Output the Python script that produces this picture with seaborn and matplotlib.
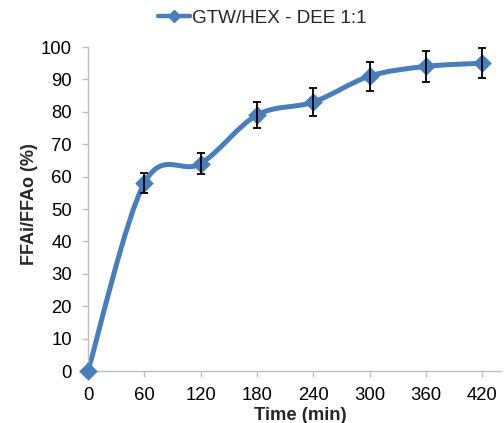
import matplotlib
matplotlib.use("Agg")
import matplotlib.pyplot as plt
import seaborn as sns
import pandas as pd
from matplotlib.path import Path
from matplotlib.patches import PathPatch
from matplotlib.lines import Line2D

# data
time_min = [0, 60, 120, 180, 240, 300, 360, 420]
ffa_ratio = [0, 58, 64, 79, 83, 91, 94, 95]
ffa_err = [0, 3, 3.2, 4, 4.2, 4.5, 4.7, 4.7]
series_name = 'GTW/HEX - DEE 1:1'
x_ticks = [0, 60, 120, 180, 240, 300, 360, 420]
y_ticks = [0, 10, 20, 30, 40, 50, 60, 70, 80, 90, 100]

blue = '#4a7ebb'
grey = '#bfbfbf'

sns.set_theme(style='white')
plt.rcParams['font.family'] = ['Liberation Sans', 'DejaVu Sans']

df = pd.DataFrame({'time': time_min, 'ffa': ffa_ratio, 'err': ffa_err})


def smooth_path(xs, ys):
    '''Excel-like smoothed line as cubic bezier segments through the points'''
    verts = [(xs[0], ys[0])]
    codes = [Path.MOVETO]
    n = len(xs)
    for i in range(n - 1):
        xp, yp = xs[max(i - 1, 0)], ys[max(i - 1, 0)]
        x0, y0 = xs[i], ys[i]
        x1, y1 = xs[i + 1], ys[i + 1]
        xn, yn = xs[min(i + 2, n - 1)], ys[min(i + 2, n - 1)]
        c1 = (x0 + (x1 - xp) / 6, y0 + (y1 - yp) / 6)
        c2 = (x1 - (xn - x0) / 6, y1 - (yn - y0) / 6)
        verts += [c1, c2, (x1, y1)]
        codes += [Path.CURVE4] * 3
    return Path(verts, codes)


fig = plt.figure(figsize=(5.04, 4.23), dpi=100)
ax = fig.add_axes([88 / 504, 1 - 371 / 423, (501 - 88) / 504, (371 - 47) / 423])

ax.add_patch(PathPatch(smooth_path(time_min, ffa_ratio), facecolor='none',
                       edgecolor=blue, lw=3.6, capstyle='round', joinstyle='round',
                       zorder=2, clip_on=False))
sns.scatterplot(data=df, x='time', y='ffa', marker='D', s=90, color=blue,
                edgecolor=blue, linewidth=0, zorder=3, clip_on=False, ax=ax)
ax.errorbar(time_min[1:], ffa_ratio[1:], yerr=ffa_err[1:], fmt='none',
            ecolor='black', elinewidth=1.3, capsize=3, capthick=1.3, zorder=4)

ax.set_xlim(0, 440)
ax.set_ylim(0, 100)
ax.set_xticks(x_ticks)
ax.set_yticks(y_ticks)

ax.spines[['top', 'right']].set_visible(False)
ax.spines[['left', 'bottom']].set_color(grey)
ax.spines[['left', 'bottom']].set_linewidth(1)
ax.tick_params(direction='out', length=4.5, width=1, color=grey, labelsize=13.3,
               labelcolor='black')
ax.tick_params(axis='y', pad=7)
ax.tick_params(axis='x', pad=7)
ax.tick_params(left=True, bottom=True)

ax.set_xlabel('Time (min)', fontsize=13.3, fontweight='bold', va='center')
ax.xaxis.set_label_coords((300 - 88) / 413, (371 - 415) / 324)
ax.set_ylabel('FFAi/FFAo (%)', fontsize=13, fontweight='bold', va='center')
ax.yaxis.set_label_coords((30 - 88) / 413, (371 - 204) / 324)

handle = Line2D([], [], color=blue, lw=3.2, marker='D', ms=6.5)
fig.legend(handles=[handle], labels=[series_name], loc='center',
           bbox_to_anchor=(262 / 504, 1 - 18 / 423), frameon=False, fontsize=13.6,
           handlelength=1.7, handletextpad=0.1)

fig.savefig('out.png', dpi=100)
